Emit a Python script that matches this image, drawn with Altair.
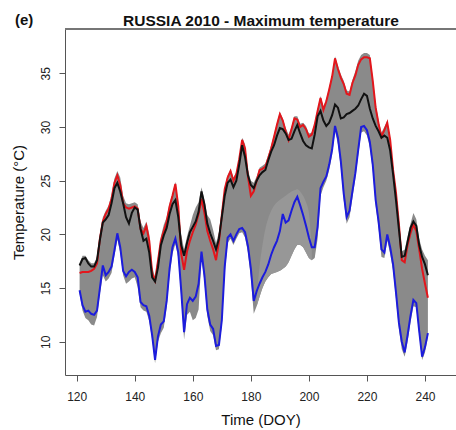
import altair as alt
import pandas as pd

# ---------------- data ----------------
doy = list(range(121, 242))

black = [17.1, 17.7, 17.8, 17.3, 17.0, 17.0, 17.6, 19.5, 21.1, 21.4,
         21.8, 22.9, 24.3, 24.8, 24.0, 22.9, 21.6, 21.0, 22.0, 22.5,
         22.3, 20.5, 19.4, 19.6, 18.3, 16.0, 15.6, 16.9, 19.0, 19.9,
         20.6, 21.9, 22.8, 23.2, 21.6, 19.0, 18.0, 19.2, 20.2, 20.7,
         21.2, 22.1, 24.0, 22.8, 21.0, 20.1, 19.4, 18.6, 19.6, 21.6,
         23.6, 24.8, 25.1, 24.4, 25.0, 26.5, 28.3, 27.2, 25.5, 24.6,
         24.3, 25.0, 25.5, 25.8, 26.0, 26.9, 27.7, 28.3, 29.2, 29.9,
         29.8, 29.4, 28.8, 28.9, 29.6, 30.2, 29.4, 28.7, 28.3, 28.1,
         28.0, 29.3, 31.0, 31.5, 30.6, 30.1, 30.4, 31.1, 32.1, 31.8,
         30.8, 30.9, 31.2, 31.3, 31.5, 31.7, 32.0, 32.6, 33.1, 32.9,
         31.7, 30.8, 30.1, 29.6, 29.0, 29.2, 29.0, 27.8, 25.6, 23.2,
         20.5, 17.9, 18.0, 19.3, 20.6, 21.2, 20.8, 19.0, 17.9, 17.2,
         16.2]

red = [16.4, 16.5, 16.5, 16.5, 16.6, 16.8, 17.3, 19.6, 21.2, 21.9,
       22.4, 23.3, 24.8, 25.5, 24.6, 22.9, 22.5, 22.4, 22.5, 22.6,
       22.4, 20.5, 20.1, 20.8, 19.4, 16.4, 15.7, 17.5, 19.4, 20.3,
       21.2, 22.6, 23.6, 24.7, 22.6, 18.2, 16.7, 18.4, 19.4, 20.2,
       20.9, 21.9, 23.3, 22.0, 20.3, 19.4, 18.6, 17.6, 19.3, 21.8,
       24.2, 25.3, 25.9, 25.0, 25.6, 27.0, 28.8, 28.0, 25.4, 23.6,
       24.0, 25.0, 26.0, 26.1, 26.3, 27.1, 28.0, 29.1, 30.2, 31.2,
       30.6, 29.6, 28.8, 29.8, 30.8, 30.7, 30.0, 30.2, 29.8, 29.1,
       29.3, 30.2, 31.5, 32.7, 31.6, 32.4, 33.5, 34.7, 36.4, 35.4,
       34.6, 34.0, 33.1, 33.0, 34.1, 34.8, 35.8, 36.3, 36.5, 36.5,
       36.4, 34.3, 31.8, 30.3, 29.1, 29.7, 30.4, 28.8, 26.0, 23.9,
       21.0, 17.6, 17.4, 19.0, 20.1, 20.9, 20.3, 18.6, 16.8, 15.4,
       14.1]

blue = [14.8, 13.4, 12.8, 12.9, 12.6, 12.5, 12.9, 15.0, 17.1, 16.2,
        16.5, 17.0, 18.5, 20.1, 18.8, 16.6, 16.1, 16.5, 16.7, 16.5,
        16.0, 13.7, 13.4, 13.3, 12.4, 10.6, 8.3, 10.5, 11.6, 11.9,
        13.8, 16.8, 18.8, 19.6, 18.3, 14.8, 10.9, 13.5, 14.1, 13.8,
        14.2, 15.4, 18.4, 16.2, 13.0, 11.6, 11.2, 9.6, 9.7, 12.0,
        17.0, 19.7, 20.0, 19.4, 20.0, 20.5, 20.6, 20.2, 18.9, 16.8,
        13.8, 14.7, 15.4, 16.0, 16.5, 17.2, 18.1, 18.8, 19.4, 20.3,
        21.9, 21.1, 21.3, 22.2, 23.0, 23.5, 22.7, 21.8, 20.8, 19.7,
        18.8, 18.8, 20.7, 24.3, 24.9, 25.4, 26.5, 27.9, 30.1, 29.0,
        26.8, 23.8, 21.6, 22.2, 24.0, 25.7, 27.9, 30.0, 30.1, 29.7,
        28.6, 26.5, 23.2, 21.2, 18.6, 18.3, 20.0, 18.8, 17.2, 14.6,
        11.8, 10.0, 9.0, 10.6, 12.4, 13.9, 13.6, 11.0, 8.6, 9.5,
        10.8]

# envelope of the grey ensemble members
gray_hi = [17.3, 18.0, 18.0, 17.6, 17.3, 17.3, 17.9, 20.0, 21.6, 22.2,
           22.7, 23.7, 25.2, 25.9, 25.3, 23.6, 22.9, 22.8, 22.9, 23.0,
           22.8, 21.2, 20.6, 21.2, 20.0, 17.0, 16.0, 17.9, 19.8, 20.9,
           21.6, 22.9, 23.8, 24.9, 23.0, 20.0, 18.6, 19.8, 20.8, 21.8,
           22.5, 23.0, 24.4, 23.2, 21.8, 21.4, 20.4, 19.2, 20.2, 22.2,
           24.4, 25.5, 26.1, 25.3, 25.8, 27.2, 29.0, 28.4, 26.0, 25.0,
           24.8, 25.4, 26.2, 26.4, 26.6, 27.4, 28.3, 29.3, 30.4, 31.4,
           30.8, 29.9, 29.3, 30.0, 31.0, 31.0, 30.3, 30.4, 30.1, 29.4,
           29.5, 30.4, 31.7, 32.9, 31.9, 32.6, 33.7, 34.9, 36.6, 35.7,
           34.9, 34.3, 33.4, 33.3, 34.4, 35.2, 36.2, 36.7, 36.9, 36.9,
           36.7, 34.6, 32.2, 30.6, 29.5, 30.0, 30.6, 29.0, 26.3, 24.2,
           21.3, 18.4, 18.6, 19.8, 21.0, 22.0, 21.4, 19.6, 18.6, 18.0,
           17.6]

gray_lo = [14.5, 12.9, 12.2, 12.0, 11.6, 11.5, 12.3, 14.5, 16.2, 15.6,
           15.9, 16.4, 18.0, 19.5, 18.3, 16.2, 15.4, 15.6, 15.9, 16.0,
           15.1, 13.2, 12.9, 12.8, 11.9, 10.2, 8.0, 10.0, 10.8, 11.3,
           13.2, 16.2, 18.2, 19.1, 17.8, 14.2, 10.2, 12.5, 12.8, 12.0,
           12.2, 13.0, 17.8, 15.6, 12.4, 11.0, 10.6, 9.2, 9.3, 11.5,
           16.4, 19.2, 19.6, 19.0, 19.6, 20.1, 20.2, 19.7, 18.3, 16.0,
           12.6, 13.3, 14.2, 15.0, 15.6, 16.0, 16.3, 16.4, 16.5, 16.6,
           16.8, 17.0, 17.4, 18.0, 18.6, 19.0, 19.0, 18.8, 18.3, 17.8,
           17.6, 17.8, 19.6, 23.6, 24.4, 25.0, 26.0, 27.4, 29.6, 28.4,
           26.2, 23.2, 21.0, 21.6, 23.4, 25.2, 27.4, 29.5, 29.6, 29.2,
           28.1, 26.0, 22.7, 20.6, 17.9, 17.8, 19.4, 18.2, 16.6, 14.0,
           11.2, 9.3, 8.6, 10.0, 11.8, 13.3, 13.2, 10.6, 8.3, 9.0,
           10.4]

# sparser (lighter) part of the ensemble
sparse_doy = list(range(182, 202))
sparse_lo = [13.3, 14.2, 15.0, 15.6, 16.0, 16.3, 16.4, 16.5, 16.6, 16.8,
             17.0, 17.4, 18.0, 18.6, 19.0, 19.0, 18.8, 18.3, 17.8, 17.6]
sparse_hi = [14.0, 17.0, 19.0, 20.5, 21.5, 22.2, 22.7, 23.0, 23.2, 23.4,
             23.6, 23.8, 24.0, 24.1, 24.2, 24.0, 23.6, 23.0, 22.0, 18.5]

x_ticks = [120, 140, 160, 180, 200, 220, 240]
y_ticks = [10, 15, 20, 25, 30, 35]
x_domain = [115.97, 250.68]
y_domain = [6.9, 39.13]

title_text = "RUSSIA 2010 - Maximum temperature"
panel_text = "(e)"
x_title = "Time (DOY)"
y_title = "Temperature (°C)"

# ---------------- chart ----------------
W, H = 391, 346
FONT = "Liberation Sans"

df = pd.DataFrame({"doy": doy, "black": black, "red": red, "blue": blue,
                   "lo": gray_lo, "hi": gray_hi})
sdf = pd.DataFrame({"doy": sparse_doy, "lo": sparse_lo, "hi": sparse_hi})

xscale = alt.Scale(domain=x_domain, nice=False, zero=False)
yscale = alt.Scale(domain=y_domain, nice=False, zero=False)

x_axis = alt.Axis(values=x_ticks, title=x_title, grid=False, tickSize=6,
                  labelPadding=10, labelFlush=False, labelFontSize=12,
                  labelColor="#222222", domainColor="#555555", tickColor="#555555",
                  titleFontSize=15, titleFontWeight="normal", titleColor="#111111",
                  titleX=W / 2, titleY=49, titleBaseline="alphabetic",
                  titleAlign="center")
y_axis = alt.Axis(values=y_ticks, title=y_title, grid=False, tickSize=6,
                  labelPadding=7, labelFlush=False, labelFontSize=12,
                  labelAngle=270, labelAlign="center", labelBaseline="bottom",
                  labelColor="#222222", domainColor="#555555", tickColor="#555555",
                  titleFontSize=15, titleFontWeight="normal", titleColor="#111111",
                  titleAngle=270, titleX=-42, titleY=H / 2,
                  titleAlign="center", titleBaseline="alphabetic")


def X():
    return alt.X("doy:Q", scale=xscale, axis=x_axis)


def Y(field):
    return alt.Y(f"{field}:Q", scale=yscale, axis=y_axis)


band = alt.Chart(df).mark_area(color="#8a8a8a", clip=True).encode(
    x=X(), y=Y("lo"), y2="hi:Q")
sparse = alt.Chart(sdf).mark_area(color="#979797", clip=True,
                                  interpolate="monotone").encode(
    x=X(), y=Y("lo"), y2="hi:Q")

blue_line = alt.Chart(df).mark_line(color="#1c1cdc", strokeWidth=2, clip=True).encode(
    x=X(), y=Y("blue"))
red_line = alt.Chart(df).mark_line(color="#e3161c", strokeWidth=2, clip=True).encode(
    x=X(), y=Y("red"))
black_line = alt.Chart(df).mark_line(color="#111111", strokeWidth=2, clip=True).encode(
    x=X(), y=Y("black"))

# top frame line of the plot box
frame_top = alt.Chart(df).mark_rule(color="#777777", strokeWidth=1).encode(
    x=alt.value(0), x2=alt.value(W), y=alt.value(0))

labels = pd.DataFrame({"t": [panel_text]})
panel = alt.Chart(labels).mark_text(
    font=FONT, fontSize=15, fontWeight="bold", align="left",
    baseline="alphabetic", color="#111111").encode(
    x=alt.value(-50), y=alt.value(-4), text="t:N")

tdf = pd.DataFrame({"t": [title_text]})
title = alt.Chart(tdf).mark_text(
    font=FONT, fontSize=15.5, fontWeight="bold", align="center",
    baseline="alphabetic", color="#111111").encode(
    x=alt.value(196), y=alt.value(-3), text="t:N")

chart = alt.layer(band, sparse, blue_line, red_line, black_line,
                  frame_top, panel, title).properties(
    width=W, height=H,
    autosize=alt.AutoSizeParams(type="none"),
    padding={"left": 65, "top": 29, "right": 0, "bottom": 55},
).configure_view(stroke=None).configure_axis(
    labelFont=FONT, titleFont=FONT)

chart.save("out.html", embed_options={"renderer": "svg", "actions": False})
